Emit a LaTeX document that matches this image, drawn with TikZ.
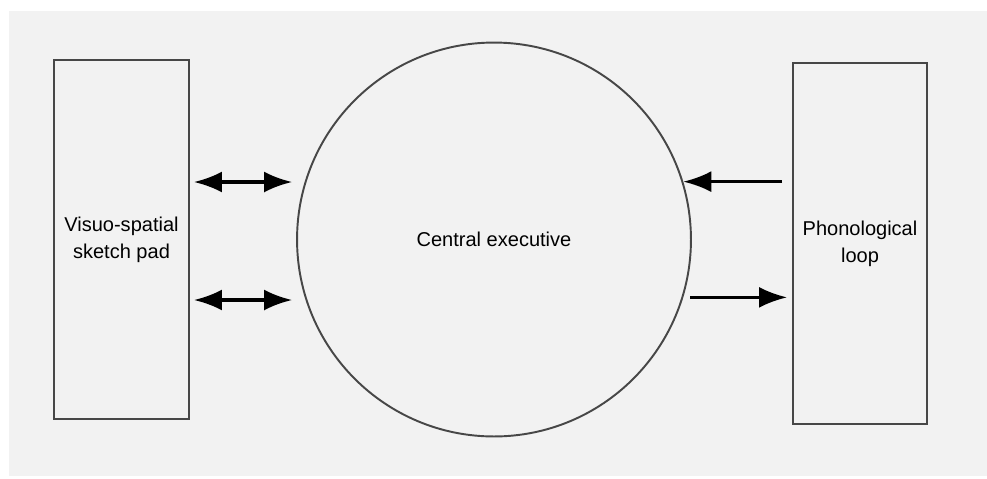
\documentclass[tikz,border=0pt]{standalone}
\usepackage{fontspec}
\setmainfont{Liberation Sans}
\usetikzlibrary{arrows.meta}

\begin{document}
\begin{tikzpicture}[x=0.02cm,y=-0.02cm,
    store/.style={draw=black!72,line width=1.1pt,rectangle,inner sep=0pt,align=center,
      font=\fontsize{11.4}{15.3}\selectfont},
    link/.style={line width=1.8pt,-{Latex[length=0.56cm,width=0.42cm]}},
    dlink/.style={link,{Latex[length=0.56cm,width=0.42cm]}-{Latex[length=0.56cm,width=0.42cm]}}]
  \useasboundingbox (0,0) rectangle (987,478);
  \fill[black!5] (9,11) rectangle (987,476);

  \node[store,minimum width=2.7cm,minimum height=7.18cm] (vsp) at (121.5,239.5) {Visuo-spatial\\sketch pad};
  \node[store,minimum width=2.68cm,minimum height=7.22cm] (loop) at (860,243.5) {Phonological\\loop};
  \node[store,circle,minimum size=7.88cm] (ce) at (494,239.5) {Central executive};

  \draw[dlink,shorten <=4*0.02cm,shorten >=4*0.02cm] ([yshift=-60.5*0.02cm]vsp.east) -- ([yshift=-60.5*0.02cm]vsp.east -| ce.west);
  \draw[dlink,shorten <=4*0.02cm,shorten >=4*0.02cm] ([yshift=57.5*0.02cm]vsp.east) -- ([yshift=57.5*0.02cm]vsp.east -| ce.west);

  \draw[link,shorten <=10*0.02cm] (loop.west |- ce.17.3) -- (ce.17.3);
  \draw[link,shorten <=7*0.02cm,shorten >=5*0.02cm] (ce.-17.6) -- (ce.-17.6 -| loop.west);
\end{tikzpicture}
\end{document}
